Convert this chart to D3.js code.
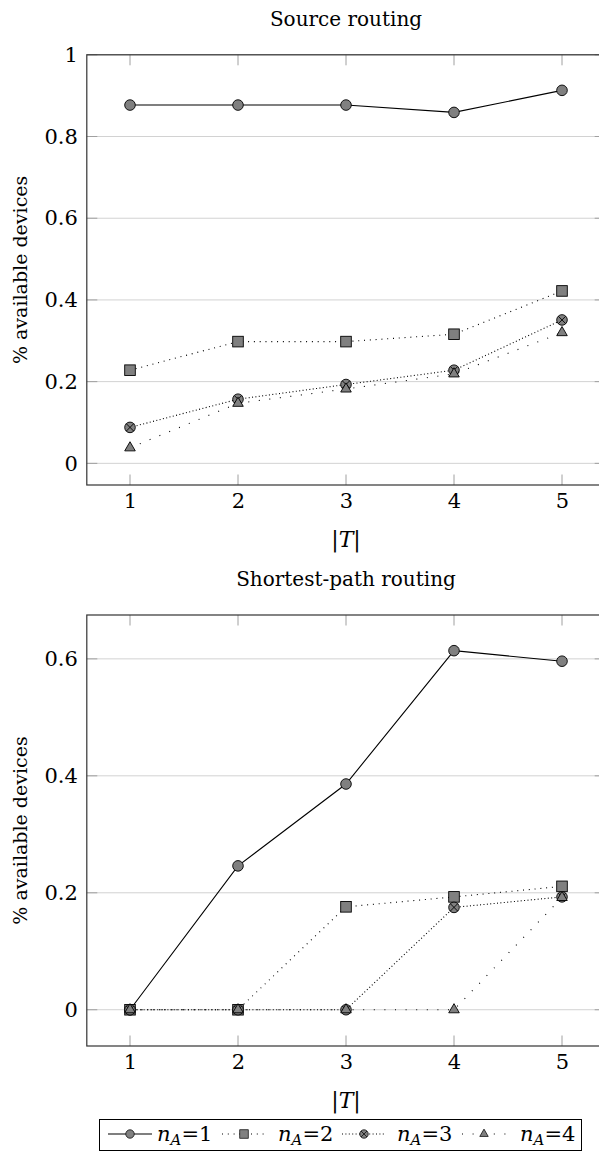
<!DOCTYPE html>
<html>
<head>
<meta charset="utf-8">
<script src="https://cdn.jsdelivr.net/npm/d3@7"></script>
<style>
  html, body { margin: 0; padding: 0; background: #fff; }
  svg { display: block; }
  svg text { font-family: "DejaVu Serif", serif; fill: #000; }
</style>
</head>
<body>
<svg id="chart" width="599" height="1157"></svg>
<script>
// ---------------- data ----------------
const xValues = [1, 2, 3, 4, 5];
const xTickLabels = ["1", "2", "3", "4", "5"];
const seriesLabels = ["1", "2", "3", "4"]; // n_A = ...

// Source routing
const srcNA1 = [0.877, 0.877, 0.877, 0.859, 0.913];
const srcNA2 = [0.228, 0.298, 0.298, 0.316, 0.422];
const srcNA3 = [0.088, 0.157, 0.193, 0.228, 0.351];
const srcNA4 = [0.038, 0.147, 0.182, 0.219, 0.320];
const srcYTicks = [0, 0.2, 0.4, 0.6, 0.8, 1];
const srcYTickLabels = ["0", "0.2", "0.4", "0.6", "0.8", "1"];

// Shortest-path routing
const spNA1 = [0, 0.246, 0.386, 0.614, 0.596];
const spNA2 = [0, 0, 0.176, 0.193, 0.211];
const spNA3 = [0, 0, 0, 0.175, 0.193];
const spNA4 = [0, 0, 0, 0, 0.192];
const spYTicks = [0, 0.2, 0.4, 0.6];
const spYTickLabels = ["0", "0.2", "0.4", "0.6"];

const titles = ["Source routing", "Shortest-path routing"];
const yLabel = "% available devices";

// ---------------- styles ----------------
const FONT = "DejaVu Serif";
const markFill = "#808080";
const dashes = [null, "1 4.8", "1 2.4", "1 9.6"];
const markTypes = ["circle", "square", "otimes", "triangle"];
const MS = 5.3;

const svg = d3.select("#chart");

function drawMarker(g, type, cx, cy, s) {
  s = s || 1;
  const m = g.append("g").attr("transform", `translate(${cx},${cy}) scale(${s})`);
  const st = (el) => el.attr("fill", markFill).attr("stroke", "#000").attr("stroke-width", 0.9);
  if (type === "circle") {
    st(m.append("circle").attr("r", MS));
  } else if (type === "square") {
    st(m.append("rect").attr("x", -MS).attr("y", -MS).attr("width", 2 * MS).attr("height", 2 * MS));
  } else if (type === "otimes") {
    st(m.append("circle").attr("r", MS));
    const k = MS * Math.SQRT1_2;
    m.append("path").attr("d", `M${-k},${-k}L${k},${k}M${-k},${k}L${k},${-k}`)
      .attr("stroke", "#000").attr("stroke-width", 0.9);
  } else if (type === "triangle") {
    const r = 6.1;
    const p = d3.path();
    p.moveTo(0, -r); p.lineTo(r * 0.866, r / 2); p.lineTo(-r * 0.866, r / 2); p.closePath();
    st(m.append("path").attr("d", p.toString()));
  }
}

function drawChart(cfg) {
  const { left, right, top, bottom, yDomain, yTicks, yTickLabels, series, title } = cfg;
  const g = svg.append("g");
  const x = d3.scaleLinear().domain([0.6, 5.4]).range([left, right]);
  const y = d3.scaleLinear().domain(yDomain).range([bottom, top]);
  const TL = 10.5;
  const cx = (left + right) / 2;

  // grid lines
  g.append("g").selectAll("line").data(yTicks).join("line")
    .attr("x1", left).attr("x2", right)
    .attr("y1", d => y(d)).attr("y2", d => y(d))
    .attr("stroke", "#d2d2d2").attr("stroke-width", 1);

  // tick marks (all four sides, inward)
  const tk = g.append("g").attr("stroke", "#a0a0a0").attr("stroke-width", 1);
  tk.selectAll(".yl").data(yTicks).join("line")
    .attr("x1", left).attr("x2", left + TL).attr("y1", d => y(d)).attr("y2", d => y(d));
  tk.selectAll(".yr").data(yTicks).join("line")
    .attr("x1", right - TL).attr("x2", right).attr("y1", d => y(d)).attr("y2", d => y(d));
  tk.selectAll(".xb").data(xValues).join("line")
    .attr("x1", d => x(d)).attr("x2", d => x(d)).attr("y1", bottom).attr("y2", bottom - TL);
  tk.selectAll(".xt").data(xValues).join("line")
    .attr("x1", d => x(d)).attr("x2", d => x(d)).attr("y1", top).attr("y2", top + TL);

  // series
  series.forEach((vals, i) => {
    const line = d3.line().x((d, j) => x(xValues[j])).y(d => y(d));
    g.append("path").attr("d", line(vals)).attr("fill", "none")
      .attr("stroke", "#000").attr("stroke-width", 1.1)
      .attr("stroke-dasharray", dashes[i]);
    vals.forEach((v, j) => drawMarker(g, markTypes[i], x(xValues[j]), y(v)));
  });

  // frame
  g.append("rect").attr("x", left).attr("y", top)
    .attr("width", right - left).attr("height", bottom - top)
    .attr("fill", "none").attr("stroke", "#333").attr("stroke-width", 1.2);

  // y tick labels via axis
  const ya = g.append("g").attr("transform", `translate(${left},0)`)
    .call(d3.axisLeft(y).tickValues(yTicks).tickSize(0).tickPadding(9)
      .tickFormat((d, i) => yTickLabels[i]));
  ya.attr("font-family", FONT);
  ya.select(".domain").remove();
  ya.selectAll("text").attr("font-family", FONT).attr("font-size", 21).attr("fill", "#000");

  // x tick labels via axis
  const xa = g.append("g").attr("transform", `translate(0,${bottom})`)
    .call(d3.axisBottom(x).tickValues(xValues).tickSize(0).tickPadding(8)
      .tickFormat((d, i) => xTickLabels[i]));
  xa.attr("font-family", FONT);
  xa.select(".domain").remove();
  xa.selectAll("text").attr("font-family", FONT).attr("font-size", 21).attr("fill", "#000");

  // title
  g.append("text").attr("x", cx).attr("y", top - 29)
    .attr("text-anchor", "middle").attr("font-family", FONT).attr("font-size", 20).text(title);

  // x label |T|
  const xl = g.append("text").attr("x", cx).attr("y", bottom + 62)
    .attr("text-anchor", "middle").attr("font-family", FONT).attr("font-size", 22);
  xl.append("tspan").text("|");
  xl.append("tspan").attr("font-style", "italic").text("T");
  xl.append("tspan").text("|");

  // y label
  g.append("text")
    .attr("transform", `translate(27,${(top + bottom) / 2}) rotate(-90)`)
    .attr("text-anchor", "middle").attr("font-family", FONT).attr("font-size", 19).text(yLabel);
}

drawChart({
  left: 86.8, right: 605.2, top: 54.8, bottom: 485,
  yDomain: [-0.053, 1], yTicks: srcYTicks, yTickLabels: srcYTickLabels,
  series: [srcNA1, srcNA2, srcNA3, srcNA4], title: titles[0]
});
drawChart({
  left: 86.8, right: 605.2, top: 615, bottom: 1046,
  yDomain: [-0.062, 0.675], yTicks: spYTicks, yTickLabels: spYTickLabels,
  series: [spNA1, spNA2, spNA3, spNA4], title: titles[1]
});

// ---------------- legend ----------------
const lg = svg.append("g");
lg.append("rect").attr("x", 99.5).attr("y", 1119.5).attr("width", 482).attr("height", 31)
  .attr("fill", "#fff").attr("stroke", "#000").attr("stroke-width", 1);
const legX = [108, 222, 342, 462];
const legTextX = [157, 278, 397, 520];
const legCy = 1134;
seriesLabels.forEach((lab, i) => {
  const x0 = legX[i];
  lg.append("line").attr("x1", x0).attr("x2", x0 + 44).attr("y1", legCy).attr("y2", legCy)
    .attr("stroke", "#000").attr("stroke-width", 1.1).attr("stroke-dasharray", dashes[i]);
  drawMarker(lg, markTypes[i], x0 + 22, legCy, 0.8);
  const t = lg.append("text").attr("x", legTextX[i]).attr("y", legCy + 7)
    .attr("font-family", FONT).attr("font-size", 21);
  t.append("tspan").attr("font-style", "italic").text("n");
  t.append("tspan").attr("font-style", "italic").attr("font-size", 15).attr("dy", 4).text("A");
  t.append("tspan").attr("dy", -4).text("=" + lab);
});
</script>
</body>
</html>
